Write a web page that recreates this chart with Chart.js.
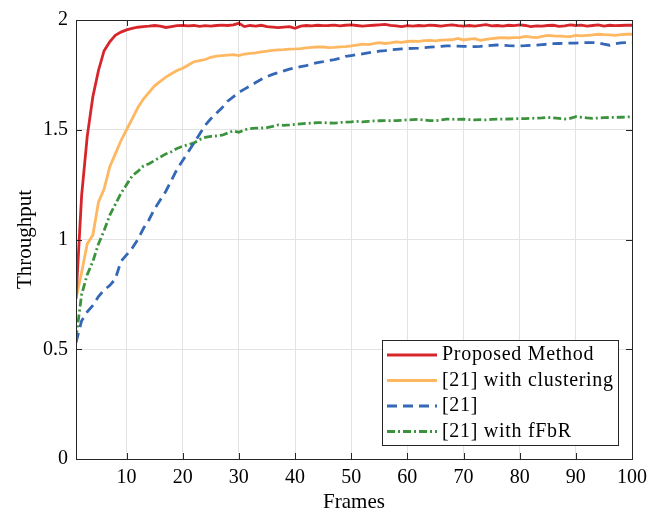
<!DOCTYPE html>
<html><head><meta charset="utf-8">
<script src="https://cdn.jsdelivr.net/npm/chart.js@4"></script>
<style>html,body{margin:0;padding:0;background:#fff;}#wrap{width:661px;height:513px;}</style>
</head><body><div id="wrap"><canvas id="c" width="661" height="513"></canvas></div>
<script>
const frames = [1,2,3,4,5,6,7,8,9,10,11,12,13,14,15,16,17,18,19,20,21,22,23,24,25,26,27,28,29,30,31,32,33,34,35,36,37,38,39,40,41,42,43,44,45,46,47,48,49,50,51,52,53,54,55,56,57,58,59,60,61,62,63,64,65,66,67,68,69,70,71,72,73,74,75,76,77,78,79,80,81,82,83,84,85,86,87,88,89,90,91,92,93,94,95,96,97,98,99,100];

const proposed = [0.73,1.20,1.47,1.65,1.77,1.86,1.90,1.93,1.945,1.955,1.962,1.967,1.970,1.972,1.975,
1.972,1.966,1.970,1.974,1.975,1.973,1.975,1.971,1.974,1.972,1.975,1.977,1.975,1.978,1.985,
1.970,1.975,1.972,1.976,1.970,1.968,1.965,1.968,1.970,1.962,1.972,1.975,1.973,1.976,1.974,
1.975,1.977,1.973,1.976,1.978,1.975,1.972,1.974,1.976,1.978,1.980,1.976,1.973,1.970,1.974,
1.972,1.975,1.973,1.977,1.975,1.972,1.976,1.978,1.974,1.972,1.975,1.972,1.976,1.979,1.973,
1.975,1.972,1.976,1.974,1.978,1.975,1.970,1.973,1.972,1.975,1.976,1.971,1.973,1.978,1.975,
1.977,1.972,1.975,1.978,1.972,1.976,1.974,1.975,1.976,1.976];

const withClustering = [0.73,0.85,0.98,1.02,1.17,1.23,1.33,1.39,1.45,1.50,1.55,1.60,1.64,1.67,1.70,
1.72,1.74,1.755,1.77,1.78,1.795,1.81,1.815,1.82,1.83,1.835,1.838,1.84,1.842,1.838,
1.845,1.848,1.85,1.855,1.858,1.862,1.864,1.865,1.867,1.868,1.87,1.873,1.875,1.877,1.877,
1.874,1.875,1.878,1.879,1.882,1.886,1.89,1.888,1.892,1.897,1.893,1.896,1.9,1.898,1.902,
1.904,1.903,1.906,1.907,1.905,1.908,1.909,1.91,1.916,1.909,1.913,1.915,1.907,1.912,1.915,
1.918,1.92,1.918,1.92,1.92,1.925,1.922,1.92,1.925,1.93,1.928,1.927,1.925,1.924,1.93,
1.928,1.93,1.932,1.935,1.933,1.932,1.93,1.933,1.935,1.935];

const baseline21 = [0.53,0.63,0.67,0.70,0.74,0.77,0.79,0.82,0.90,0.93,0.96,1.00,1.05,1.09,1.14,
1.18,1.22,1.27,1.32,1.36,1.40,1.44,1.48,1.52,1.55,1.575,1.60,1.63,1.65,1.67,
1.685,1.70,1.715,1.73,1.742,1.752,1.76,1.768,1.776,1.782,1.788,1.792,1.80,1.806,1.81,
1.815,1.82,1.826,1.834,1.838,1.842,1.846,1.85,1.854,1.858,1.86,1.864,1.866,1.868,1.87,
1.871,1.872,1.874,1.876,1.878,1.88,1.882,1.882,1.881,1.88,1.879,1.879,1.88,1.882,1.884,
1.886,1.885,1.883,1.882,1.882,1.883,1.885,1.886,1.888,1.89,1.892,1.893,1.894,1.895,1.895,
1.896,1.897,1.897,1.896,1.89,1.885,1.892,1.896,1.897,1.897];

const withFFbR = [0.55,0.75,0.84,0.90,0.98,1.04,1.11,1.16,1.21,1.25,1.29,1.31,1.335,1.345,1.36,
1.375,1.39,1.40,1.415,1.425,1.432,1.44,1.455,1.465,1.47,1.472,1.475,1.485,1.495,1.488,
1.5,1.505,1.507,1.508,1.51,1.515,1.522,1.52,1.522,1.525,1.527,1.529,1.53,1.532,1.533,
1.531,1.53,1.533,1.535,1.536,1.538,1.536,1.538,1.54,1.541,1.542,1.541,1.542,1.543,1.545,
1.546,1.547,1.544,1.542,1.541,1.545,1.548,1.548,1.547,1.548,1.546,1.545,1.546,1.545,1.547,
1.548,1.548,1.549,1.55,1.551,1.551,1.552,1.553,1.554,1.556,1.554,1.552,1.549,1.552,1.56,
1.557,1.554,1.552,1.553,1.555,1.556,1.556,1.557,1.558,1.559];

const seriesLabels = ['Proposed Method','[21] with clustering','[21]','[21] with fFbR'];
const xTicks = [10,20,30,40,50,60,70,80,90,100];
const yTicks = [0,0.5,1,1.5,2];
const yTickLabels = ['0','0.5','1','1.5','2'];

const FONT = "'Liberation Serif', 'Times New Roman', serif";
const INK = '#262626';

function pts(vals){ return frames.map((f,i)=>({x:f, y:vals[i]})); }

const boxLegend = {
  id:'boxLegend',
  afterDraw(chart){
    const {ctx, chartArea:a, scales:{x, y}} = chart;
    ctx.save();
    ctx.strokeStyle = INK; ctx.lineWidth = 1; ctx.setLineDash([]);
    ctx.beginPath();
    xTicks.forEach(v=>{
      const px = Math.round(x.getPixelForValue(v)) + 0.5;
      ctx.moveTo(px, a.bottom); ctx.lineTo(px, a.bottom - 6);
      ctx.moveTo(px, a.top); ctx.lineTo(px, a.top + 6);
    });
    yTicks.forEach(v=>{
      const py = Math.round(y.getPixelForValue(v)) + 0.5;
      ctx.moveTo(a.left, py); ctx.lineTo(a.left + 6, py);
      ctx.moveTo(a.right, py); ctx.lineTo(a.right - 6, py);
    });
    ctx.stroke();
    ctx.strokeRect(Math.round(a.left)+0.5, Math.round(a.top)+0.5, Math.round(a.right-a.left), Math.round(a.bottom-a.top));
    const right = a.right - 14, bottom = a.bottom - 14;
    const w = 236, h = 105;
    const left = right - w, top = bottom - h;
    ctx.fillStyle = '#fff';
    ctx.fillRect(left, top, w, h);
    ctx.strokeStyle = INK;
    ctx.strokeRect(Math.round(left)+0.5, Math.round(top)+0.5, w, h);
    ctx.font = "20px " + FONT;
    ctx.textBaseline = 'middle';
    ctx.textAlign = 'left';
    try { ctx.letterSpacing = '0.7px'; } catch(e){}
    chart.data.datasets.forEach((ds, i)=>{
      const ry = top + 15 + i * 25.5;
      ctx.strokeStyle = ds.borderColor;
      ctx.lineWidth = ds.borderWidth;
      ctx.setLineDash(ds.borderDash || []);
      ctx.beginPath();
      ctx.moveTo(left + 5, ry); ctx.lineTo(left + 55, ry);
      ctx.stroke();
      ctx.setLineDash([]);
      ctx.fillStyle = '#000';
      ctx.fillText(ds.label, left + 60, ry);
    });
    ctx.restore();
  }
};

new Chart(document.getElementById('c'), {
  type: 'line',
  data: {
    datasets: [
      {label: seriesLabels[0], data: pts(proposed), borderColor:'#d7262b', borderWidth:2.8},
      {label: seriesLabels[1], data: pts(withClustering), borderColor:'#feb862', borderWidth:2.8},
      {label: seriesLabels[2], data: pts(baseline21), borderColor:'#3467b5', borderWidth:2.8, borderDash:[10,6]},
      {label: seriesLabels[3], data: pts(withFFbR), borderColor:'#3b943d', borderWidth:2.8, borderDash:[8,3,2,3]}
    ].map(d=>Object.assign(d, {pointRadius:0, tension:0, fill:false, borderCapStyle:'butt'}))
  },
  options: {
    responsive:false, animation:false, devicePixelRatio:1,
    layout:{padding:{left:0, right:29, top:19, bottom:0}},
    plugins:{legend:{display:false}, tooltip:{enabled:false}},
    scales:{
      x:{
        type:'linear', min:1, max:100,
        afterBuildTicks: s => { s.ticks = xTicks.map(v=>({value:v})); },
        afterFit: s => { s.height = 54; },
        ticks:{font:{family:FONT, size:20}, color:'#000', padding:7, maxRotation:0, autoSkip:false,
          callback: v => String(v)},
        grid:{color:'#e3e3e3', lineWidth:1, drawTicks:false},
        border:{display:false},
        title:{display:true, text:'Frames', font:{family:FONT, size:21, lineHeight:1}, color:'#000', padding:{top:0,bottom:0}}
      },
      y:{
        type:'linear', min:0, max:2,
        afterBuildTicks: s => { s.ticks = yTicks.map(v=>({value:v})); },
        afterFit: s => { s.width = 76; },
        ticks:{font:{family:FONT, size:20}, color:'#000', padding:8,
          callback: v => yTickLabels[yTicks.indexOf(v)]},
        grid:{color:'#e3e3e3', lineWidth:1, drawTicks:false},
        border:{display:false},
        title:{display:true, text:'Throughput', font:{family:FONT, size:21, lineHeight:1}, color:'#000', padding:{top:15,bottom:0}}
      }
    }
  },
  plugins:[boxLegend]
});
</script>
</body></html>
